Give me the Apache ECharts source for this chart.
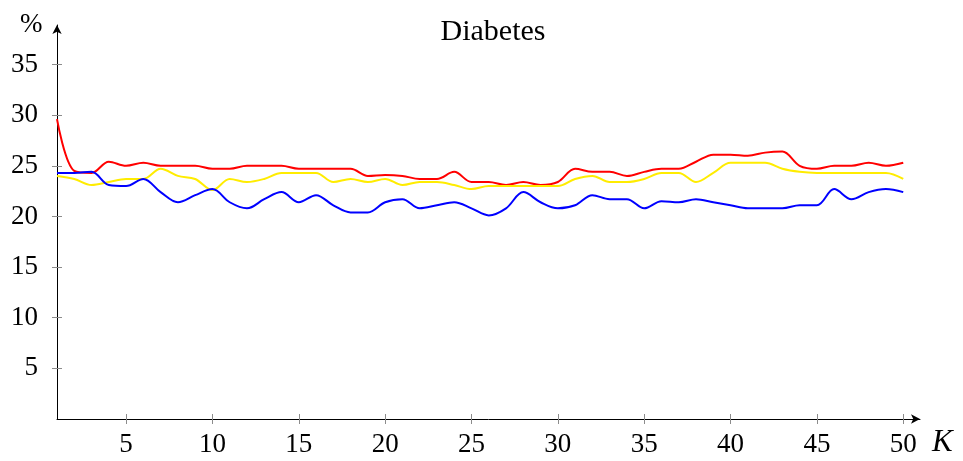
<!DOCTYPE html>
<html>
<head>
<meta charset="utf-8">
<script src="https://cdn.jsdelivr.net/npm/echarts@6/dist/echarts.min.js"></script>
<style>
  html, body { margin: 0; padding: 0; background: #fff; }
  #chart { width: 963px; height: 461px; }
</style>
</head>
<body>
<div id="chart"></div>
<script>
// K = 1..50
const kValues = [1,2,3,4,5,6,7,8,9,10,11,12,13,14,15,16,17,18,19,20,21,22,23,24,25,26,27,28,29,30,31,32,33,34,35,36,37,38,39,40,41,42,43,44,45,46,47,48,49,50];

const redValues = [29.6,24.5,24.3,25.4,25.0,25.3,25.0,25.0,25.0,24.7,24.7,25.0,25.0,25.0,24.7,24.7,24.7,24.7,24.0,24.1,24.0,23.7,23.7,24.4,23.4,23.4,23.1,23.4,23.1,23.4,24.7,24.4,24.4,24.0,24.4,24.7,24.7,25.4,26.1,26.1,26.0,26.3,26.4,25.0,24.7,25.0,25.0,25.3,25.0,25.3];
const yellowValues = [24.0,23.7,23.1,23.4,23.7,23.7,24.7,24.0,23.7,22.6,23.7,23.4,23.7,24.3,24.3,24.3,23.4,23.7,23.4,23.7,23.1,23.4,23.4,23.1,22.7,23.0,23.0,23.0,23.0,23.0,23.7,24.0,23.4,23.4,23.7,24.3,24.3,23.4,24.3,25.3,25.3,25.3,24.7,24.4,24.3,24.3,24.3,24.3,24.3,23.7];
const blueValues = [24.3,24.3,24.4,23.1,23.0,23.7,22.4,21.4,22.1,22.7,21.4,20.8,21.7,22.4,21.4,22.1,21.1,20.4,20.4,21.4,21.7,20.8,21.1,21.4,20.8,20.1,20.8,22.4,21.4,20.8,21.1,22.1,21.7,21.7,20.8,21.5,21.4,21.7,21.4,21.1,20.8,20.8,20.8,21.1,21.1,22.7,21.7,22.4,22.7,22.4];

const xTicks = [5,10,15,20,25,30,35,40,45,50];
const yTicks = [5,10,15,20,25,30,35];

const font = '"Liberation Serif", "DejaVu Serif", serif';
const tickGray = '#8c8c8c';

function pairs(vals) {
  return vals.map((v, i) => [kValues[i], v]);
}

// two copies of each axis: one draws ticks outside, the other inside,
// so the ticks cross the axis line like in the original
function makeX(inside, main) {
  return {
    type: 'value',
    position: 'bottom',
    min: 1,
    max: 50.97,
    axisLine: main ? {
      show: true,
      lineStyle: { color: '#000', width: 1 },
      symbol: ['none', 'arrow'],
      symbolSize: [7, 9]
    } : { show: false },
    axisTick: { show: true, inside: inside, length: 5, customValues: xTicks, lineStyle: { color: tickGray } },
    axisLabel: main ? {
      show: true, customValues: xTicks, color: '#000', fontFamily: font, fontSize: 27, margin: 12
    } : { show: false },
    splitLine: { show: false }
  };
}

function makeY(inside, main) {
  return {
    type: 'value',
    position: 'left',
    min: 0,
    max: 38.9,
    axisLine: main ? {
      show: true,
      lineStyle: { color: '#000', width: 1 },
      symbol: ['none', 'arrow'],
      symbolSize: [7, 9]
    } : { show: false },
    axisTick: { show: true, inside: inside, length: 5, customValues: yTicks, lineStyle: { color: tickGray } },
    axisLabel: main ? {
      show: true, customValues: yTicks, color: '#000', fontFamily: font, fontSize: 27, margin: 19
    } : { show: false },
    splitLine: { show: false }
  };
}

function line(name, color, vals) {
  return {
    name: name,
    type: 'line',
    smooth: 0.35,
    showSymbol: false,
    data: pairs(vals),
    lineStyle: { color: color, width: 2 },
    itemStyle: { color: color },
    z: 3
  };
}

const chart = echarts.init(document.getElementById('chart'));
chart.setOption({
  animation: false,
  backgroundColor: '#fff',
  title: {
    text: 'Diabetes',
    left: 488,
    textAlign: 'center',
    top: 12,
    textStyle: { fontFamily: font, fontSize: 30, fontWeight: 'normal', color: '#000' }
  },
  grid: { left: 57, right: 43, top: 25, bottom: 42 },
  xAxis: [makeX(false, true), makeX(true, false)],
  yAxis: [makeY(false, true), makeY(true, false)],
  series: [
    line('red', '#ff0000', redValues),
    line('yellow', '#ffec00', yellowValues),
    line('blue', '#0000ff', blueValues)
  ],
  graphic: [
    { type: 'text', left: 20, top: 11, style: { text: '%', font: '27px ' + font, fill: '#000' } },
    { type: 'text', left: 932, top: 427, style: { text: 'K', font: 'italic 31px ' + font, fill: '#000' } }
  ]
});
</script>
</body>
</html>
